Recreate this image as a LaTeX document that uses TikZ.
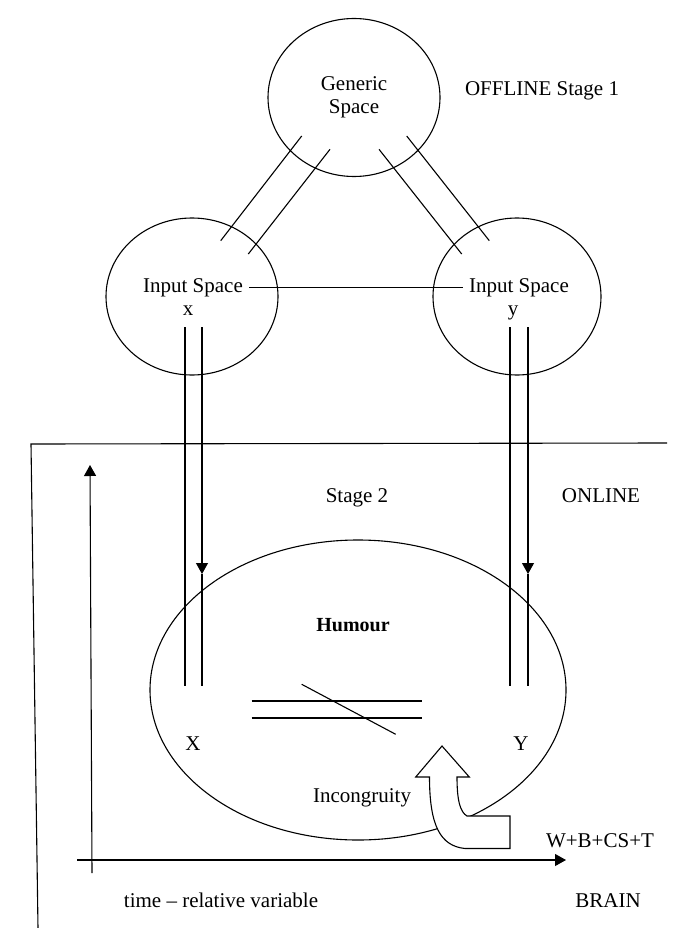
\documentclass[tikz,border=0pt]{standalone}
\usepackage{fontspec}
\setmainfont{Liberation Serif}
\usetikzlibrary{shapes.geometric,arrows.meta}
\tikzset{
  ln/.style={line width=1.1pt},
  circ/.style={ellipse, draw, line width=1.1pt, inner sep=0pt},
  lbl/.style={font=\fontsize{21}{23}\selectfont, inner sep=0pt},
  arr/.style={-{Triangle[length=11pt,width=12pt]}},
}
\begin{document}
\begin{tikzpicture}[x=1pt,y=-1pt]
\useasboundingbox (0,0) rectangle (675,928);
\fill[white] (0,0) rectangle (675,928);

% top circles
\node[circ, minimum width=172pt, minimum height=158pt, align=center, lbl] (gen) at (354,97.5) {Generic\\Space};
\node[lbl, anchor=base] (offline) at (542,96) {OFFLINE Stage 1};

\node[circ, minimum width=172pt, minimum height=157pt] (inL) at (192,296.5) {};
\node[circ, minimum width=168pt, minimum height=157pt] (inR) at (517,296.5) {};
\node[lbl, anchor=base] (inLt) at (193,292) {Input Space};
\node[lbl, anchor=base] (xL) at (188,315) {x};
\node[lbl, anchor=base] (inRt) at (519,292) {Input Space};
\node[lbl, anchor=base] (yR) at (513,315) {y};
\draw[ln] ([xshift=6pt]inLt.east) -- ([xshift=-6pt]inRt.west);

% double links between generic and input spaces
\coordinate (a1) at (301.7,136); \coordinate (a2) at (220.7,240.7);
\coordinate (b1) at (330,149.3); \coordinate (b2) at (248.3,254);
\coordinate (c1) at (379,149.3); \coordinate (c2) at (461.7,254);
\coordinate (d1) at (406.7,136); \coordinate (d2) at (489.3,240.7);
\draw[ln] (a1) -- (a2);
\draw[ln] (b1) -- (b2);
\draw[ln] (c1) -- (c2);
\draw[ln] (d1) -- (d2);

% frame
\coordinate (f1) at (31,444); \coordinate (f2) at (667,443); \coordinate (f3) at (38,928);
\draw[ln] (f2) -- (f1) -- (f3);

\node[lbl, anchor=base] (stage2) at (357,502) {Stage 2};
\node[lbl, anchor=base] (online) at (601,502) {ONLINE};

% humour ellipse
\node[circ, minimum width=416pt, minimum height=300pt] (hum) at (358,690) {};
\node[lbl, anchor=base, font=\fontsize{20}{23}\selectfont\bfseries] (humt) at (353,631) {Humour};
\node[lbl, anchor=base] (X) at (193,750) {X};
\node[lbl, anchor=base] (Y) at (521,750) {Y};
\node[lbl, anchor=base] (inc) at (362,802) {Incongruity};

% vertical double lines
\coordinate (l1t) at (185,327); \coordinate (l1b) at (185,686);
\coordinate (l2t) at (202,327); \coordinate (l2m) at (202,574); \coordinate (l2b) at (202,686);
\coordinate (r1t) at (510,327); \coordinate (r1b) at (510,686);
\coordinate (r2t) at (528,327); \coordinate (r2m) at (528,574); \coordinate (r2b) at (528,686);
\draw[ln] (l1t) -- (l1b);
\draw[ln, arr] (l2t) -- (l2m);
\draw[ln] (l2m) -- (l2b);
\draw[ln] (r1t) -- (r1b);
\draw[ln, arr] (r2t) -- (r2m);
\draw[ln] (r2m) -- (r2b);

% not-equal sign
\coordinate (e1) at (251.7,701); \coordinate (e2) at (421.7,701);
\coordinate (e3) at (251.7,718); \coordinate (e4) at (421.7,718);
\coordinate (s1) at (301.7,684.3); \coordinate (s2) at (395.7,734.3);
\draw[ln] (e1) -- (e2);
\draw[ln] (e3) -- (e4);
\draw[ln] (s1) -- (s2);

% bent fat arrow
\draw[ln, fill=white, line join=miter]
  (442,746) -- (469.3,777) -- (457,777)
  .. controls (457,800) and (460,812) .. (467,816)
  -- (510,816) -- (510,848.5) -- (465,848.5)
  .. controls (440,846) and (429.5,825) .. (429.5,777)
  -- (415.7,777) -- cycle;

% axes
\coordinate (vb) at (92,873); \coordinate (vt) at (90,465);
\coordinate (hl) at (77,860); \coordinate (hr) at (566,860);
\draw[ln, arr] (vb) -- (vt);
\draw[ln, arr] (hl) -- (hr);

\node[lbl, anchor=base] (wb) at (600,847) {W+B+CS+T};
\node[lbl, anchor=base] (time) at (221,907) {time -- relative variable};
\node[lbl, anchor=base] (brain) at (608,907) {BRAIN};
\end{tikzpicture}
\end{document}
